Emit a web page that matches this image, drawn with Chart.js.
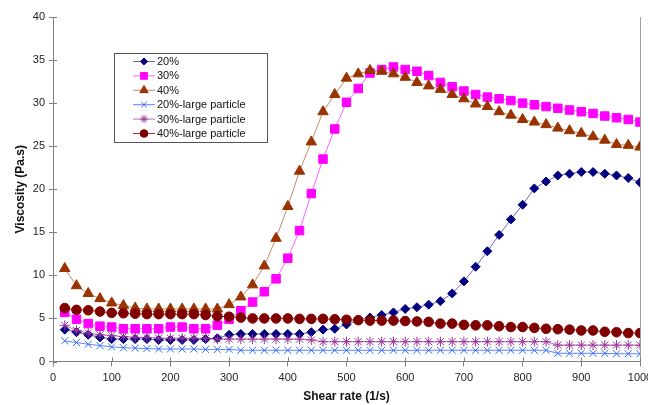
<!DOCTYPE html>
<html>
<head>
<meta charset="utf-8">
<script src="https://cdn.jsdelivr.net/npm/chart.js@4/dist/chart.umd.min.js"></script>
<style>
  body { margin: 0; background: #fff; }
</style>
</head>
<body>
<canvas id="viscosityChart" width="648" height="405"></canvas>
<script>
const shearRate = [20, 40, 60, 80, 100, 120, 140, 160, 180, 200,
    220, 240, 260, 280, 300, 320, 340, 360, 380, 400,
    420, 440, 460, 480, 500, 520, 540, 560, 580, 600,
    620, 640, 660, 680, 700, 720, 740, 760, 780, 800,
    820, 840, 860, 880, 900, 920, 940, 960, 980, 1000];

const visc20 = [3.7, 3.4, 3.1, 2.8, 2.6, 2.6, 2.6, 2.6, 2.5, 2.5,
    2.5, 2.5, 2.6, 2.7, 3.1, 3.2, 3.2, 3.2, 3.2, 3.2,
    3.2, 3.4, 3.7, 3.8, 4.3, 4.8, 5.1, 5.4, 5.7, 6.1,
    6.3, 6.6, 7.0, 7.9, 9.3, 11.0, 12.8, 14.7, 16.5, 18.2,
    20.1, 20.9, 21.6, 21.8, 22.0, 22.0, 21.8, 21.6, 21.3, 20.8];

const visc30 = [5.7, 4.9, 4.4, 4.1, 4.0, 3.8, 3.8, 3.8, 3.8, 4.0,
    4.0, 3.8, 3.8, 4.2, 4.9, 5.9, 6.9, 8.1, 9.6, 12.0,
    15.2, 19.5, 23.5, 27.0, 30.1, 31.7, 33.5, 33.9, 34.2, 33.9,
    33.7, 33.2, 32.4, 31.9, 31.4, 31.0, 30.7, 30.5, 30.3, 30.0,
    29.8, 29.6, 29.4, 29.2, 29.0, 28.8, 28.5, 28.3, 28.1, 27.8];

const visc40 = [10.8, 8.8, 7.9, 7.3, 6.8, 6.5, 6.2, 6.1, 6.1, 6.1,
    6.1, 6.1, 6.1, 6.1, 6.6, 7.5, 8.9, 11.1, 14.3, 18.0,
    22.1, 25.5, 29.0, 31.0, 32.9, 33.4, 33.8, 33.7, 33.4, 33.0,
    32.4, 32.0, 31.6, 31.0, 30.5, 29.9, 29.6, 29.0, 28.6, 28.1,
    27.8, 27.5, 27.1, 26.8, 26.5, 26.1, 25.7, 25.2, 25.1, 24.9];

const visc20Large = [2.4, 2.2, 2.0, 1.85, 1.7, 1.6, 1.55, 1.5, 1.45, 1.45,
    1.45, 1.45, 1.4, 1.4, 1.4, 1.3, 1.3, 1.3, 1.3, 1.3,
    1.3, 1.3, 1.3, 1.3, 1.3, 1.3, 1.3, 1.3, 1.3, 1.3,
    1.3, 1.3, 1.3, 1.3, 1.3, 1.3, 1.3, 1.3, 1.3, 1.3,
    1.3, 1.3, 0.95, 0.95, 0.95, 0.95, 0.95, 0.9, 0.9, 0.9];

const visc30Large = [4.2, 3.6, 3.3, 3.1, 3.0, 2.9, 2.8, 2.8, 2.7, 2.7,
    2.7, 2.7, 2.7, 2.6, 2.6, 2.6, 2.6, 2.6, 2.6, 2.6,
    2.6, 2.5, 2.3, 2.3, 2.3, 2.3, 2.3, 2.3, 2.3, 2.3,
    2.3, 2.3, 2.3, 2.3, 2.3, 2.3, 2.3, 2.3, 2.3, 2.3,
    2.3, 2.3, 1.9, 1.9, 1.9, 1.9, 1.9, 1.9, 1.9, 1.9];

const visc40Large = [6.2, 6.0, 5.95, 5.8, 5.65, 5.6, 5.55, 5.5, 5.5, 5.5,
    5.5, 5.5, 5.4, 5.25, 5.2, 5.1, 5.0, 5.0, 5.0, 5.0,
    4.95, 4.95, 4.95, 4.9, 4.85, 4.8, 4.75, 4.75, 4.75, 4.7,
    4.65, 4.6, 4.4, 4.4, 4.25, 4.2, 4.2, 4.1, 4.0, 4.0,
    3.9, 3.8, 3.75, 3.7, 3.6, 3.6, 3.45, 3.4, 3.3, 3.3];

const xTicks = [0, 100, 200, 300, 400, 500, 600, 700, 800, 900, 1000];
const yTicks = [0, 5, 10, 15, 20, 25, 30, 35, 40];

function toPoints(values) {
    return shearRate.map((x, i) => ({ x: x, y: values[i] }));
}

function series(label, values, color, lineColor, style, radius, order) {
    return {
        label: label,
        data: toPoints(values),
        borderColor: lineColor,
        borderWidth: 1,
        backgroundColor: color,
        pointBackgroundColor: color,
        pointBorderColor: color,
        pointBorderWidth: 1,
        pointStyle: style,
        pointRadius: radius,
        tension: 0,
        order: order
    };
}

const datasets = [
    series('20%', visc20, '#000080', 'rgba(70,70,160,0.8)', 'rectRot', 4.5, 5),
    series('30%', visc30, '#ff00ff', 'rgba(255,60,255,0.8)', 'rect', 6, 4),
    series('40%', visc40, '#993300', 'rgba(180,110,70,0.8)', 'triangle', 6, 3),
    series('20%-large particle', visc20Large, '#3366ff', 'rgba(51,102,255,0.8)', 'crossRot', 5, 2),
    series('30%-large particle', visc30Large, '#993399', 'rgba(153,51,153,0.7)', 'star', 5, 1),
    series('40%-large particle', visc40Large, '#800000', 'rgba(128,0,0,0.8)', 'circle', 4.8, 0)
];

// legend drawn inside the plot, the way the spreadsheet had it
const insideLegend = {
    id: 'insideLegend',
    afterDraw(chart) {
        const ctx = chart.ctx;
        const area = chart.chartArea;
        ctx.save();
        // right border of the plot
        ctx.strokeStyle = '#a0a0a0';
        ctx.lineWidth = 1;
        ctx.beginPath();
        ctx.moveTo(area.right + 0.5, area.top);
        ctx.lineTo(area.right + 0.5, area.bottom);
        ctx.stroke();

        // tick marks cross the axes
        ctx.strokeStyle = '#808080';
        ctx.beginPath();
        chart.scales.x.ticks.forEach(t => {
            const px = Math.round(chart.scales.x.getPixelForValue(t.value)) + 0.5;
            ctx.moveTo(px, area.bottom);
            ctx.lineTo(px, area.bottom - 4);
        });
        chart.scales.y.ticks.forEach(t => {
            const py = Math.round(chart.scales.y.getPixelForValue(t.value)) + 0.5;
            ctx.moveTo(area.left, py);
            ctx.lineTo(area.left + 4, py);
        });
        ctx.stroke();

        const left = area.left + 61;
        const top = area.top + 36;
        const w = 153;
        const h = 89;
        ctx.fillStyle = '#fff';
        ctx.fillRect(left, top, w, h);
        ctx.strokeStyle = '#555';
        ctx.strokeRect(left + 0.5, top + 0.5, w, h);

        ctx.font = '11px "Liberation Sans", Arial, sans-serif';
        ctx.textBaseline = 'middle';
        ctx.textAlign = 'left';
        datasets.forEach((ds, i) => {
            const y = top + 8.5 + i * 14.4;
            ctx.strokeStyle = ds.borderColor;
            ctx.lineWidth = 1;
            ctx.beginPath();
            ctx.moveTo(left + 19, y);
            ctx.lineTo(left + 41, y);
            ctx.stroke();
            ctx.fillStyle = ds.pointBackgroundColor;
            ctx.strokeStyle = ds.pointBorderColor;
            Chart.helpers.drawPoint(ctx, {
                pointStyle: ds.pointStyle,
                radius: ds.pointRadius * 0.8,
                rotation: 0,
                borderWidth: 1
            }, left + 30, y);
            ctx.fillStyle = '#111';
            ctx.fillText(ds.label, left + 43, y + 0.5);
        });
        ctx.restore();
    }
};

const config = {
    type: 'line',
    data: { datasets: datasets },
    options: {
        responsive: false,
        animation: false,
        layout: { padding: { top: 17, right: 8, left: 0, bottom: 0 } },
        plugins: {
            legend: { display: false },
            tooltip: { enabled: false }
        },
        scales: {
            x: {
                type: 'linear',
                min: 0,
                max: 1000,
                afterBuildTicks: s => { s.ticks = xTicks.map(v => ({ value: v })); },
                afterFit: s => { s.height = 43.5; s.paddingLeft = 0; s.paddingRight = 0; },
                grid: { drawOnChartArea: false, drawTicks: true, tickLength: 5, color: '#808080' },
                border: { color: '#808080', width: 1 },
                ticks: {
                    color: '#222',
                    padding: 5,
                    maxRotation: 0,
                    callback: v => String(v),
                    font: { family: '"Liberation Sans", Arial', size: 11 }
                },
                title: {
                    display: true,
                    text: 'Shear rate (1/s)',
                    color: '#111',
                    padding: { top: 0, bottom: 1 },
                    font: { family: '"Liberation Sans", Arial', size: 12, weight: 'bold' }
                }
            },
            y: {
                min: 0,
                max: 40,
                afterBuildTicks: s => { s.ticks = yTicks.map(v => ({ value: v })); },
                afterFit: s => { s.width = 53; s.paddingTop = 0; s.paddingBottom = 0; },
                grid: { drawOnChartArea: false, drawTicks: true, tickLength: 4, color: '#808080' },
                border: { color: '#808080', width: 1 },
                ticks: {
                    color: '#222',
                    padding: 4,
                    font: { family: '"Liberation Sans", Arial', size: 11 }
                },
                title: {
                    display: true,
                    text: 'Viscosity (Pa.s)',
                    color: '#111',
                    padding: { top: 13, bottom: 0 },
                    font: { family: '"Liberation Sans", Arial', size: 12, weight: 'bold' }
                }
            }
        }
    },
    plugins: [insideLegend]
};

const viscosityChart = new Chart(
    document.getElementById('viscosityChart'),
    config
);
</script>
</body>
</html>
